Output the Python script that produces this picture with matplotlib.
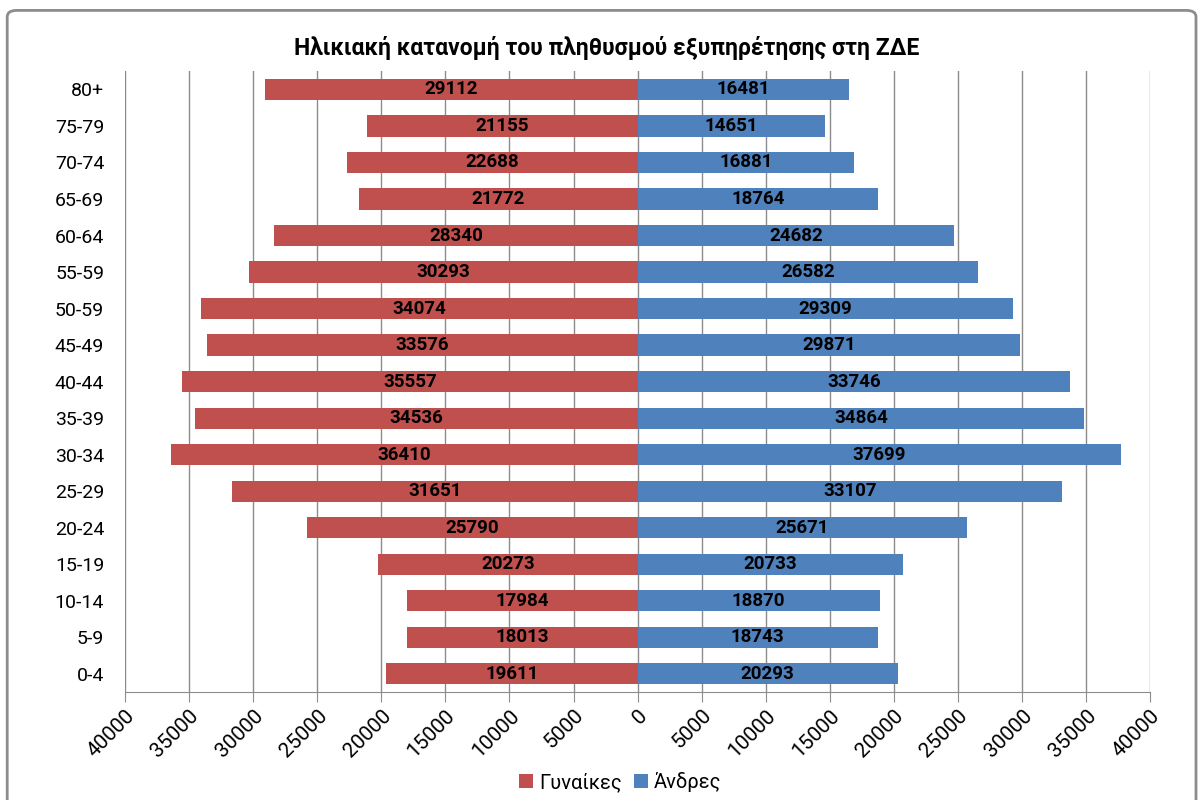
import matplotlib.pyplot as plt
from matplotlib.patches import FancyBboxPatch
from matplotlib.ticker import FuncFormatter

plt.rcParams['font.family'] = ['Roboto', 'DejaVu Sans']

ages = ['0-4', '5-9', '10-14', '15-19', '20-24', '25-29', '30-34', '35-39',
        '40-44', '45-49', '50-59', '55-59', '60-64', '65-69', '70-74', '75-79', '80+']
women = [19611, 18013, 17984, 20273, 25790, 31651, 36410, 34536,
         35557, 33576, 34074, 30293, 28340, 21772, 22688, 21155, 29112]
men = [20293, 18743, 18870, 20733, 25671, 33107, 37699, 34864,
       33746, 29871, 29309, 26582, 24682, 18764, 16881, 14651, 16481]
ticks = list(range(-40000, 40001, 5000))

red = '#C0504D'
blue = '#4F81BD'

fig = plt.figure(figsize=(12.02, 8), dpi=100)
frame = FancyBboxPatch((0.006, -0.02), 0.989, 1.007, boxstyle='round,pad=0,rounding_size=0.008',
                       transform=fig.transFigure, fc='none', ec='#8c8c8c', lw=2, zorder=5)
fig.patches.append(frame)

ax = fig.add_axes([0.104, 0.135, 0.853, 0.776])
y = range(len(ages))
bw = ax.barh(y, [-v for v in women], height=0.58, color=red, label='Γυναίκες', zorder=3)
bm = ax.barh(y, men, height=0.58, color=blue, label='Άνδρες', zorder=3)

for i in y:
    ax.text(-women[i] / 2, i, str(women[i]), ha='center', va='center',
            fontsize=13.5, fontweight='bold', zorder=4)
    ax.text(men[i] / 2, i, str(men[i]), ha='center', va='center',
            fontsize=13.5, fontweight='bold', zorder=4)

ax.set_xlim(-40000, 40000)
ax.set_ylim(-0.5, len(ages) - 0.5)
ax.set_xticks(ticks)
ax.xaxis.set_major_formatter(FuncFormatter(lambda v, p: '%d' % abs(v)))
ax.set_yticks(list(y))
ax.set_yticklabels(ages)
ax.grid(axis='x', color='#8c8c8c', lw=1, zorder=0)
for s in ['top', 'right', 'left']:
    ax.spines[s].set_visible(False)
ax.spines['bottom'].set_color('#8c8c8c')
ax.tick_params(axis='x', length=7, color='#8c8c8c', labelsize=15, pad=3)
ax.tick_params(axis='y', length=0, labelsize=14, pad=15)
plt.setp(ax.get_xticklabels(), rotation=45, ha='right', rotation_mode='anchor')

fig.text(0.505, 0.94, 'Ηλικιακή κατανομή του πληθυσμού εξυπηρέτησης στη ΖΔΕ',
         ha='center', va='center', fontsize=16.5, fontweight='bold')
fig.legend(handles=[bw, bm], loc='center', bbox_to_anchor=(0.516, 0.022), ncol=2,
           frameon=False, fontsize=14.5, handlelength=0.7, handleheight=0.7,
           handletextpad=0.3, columnspacing=0.6)

fig.savefig('out.png', dpi=100)
